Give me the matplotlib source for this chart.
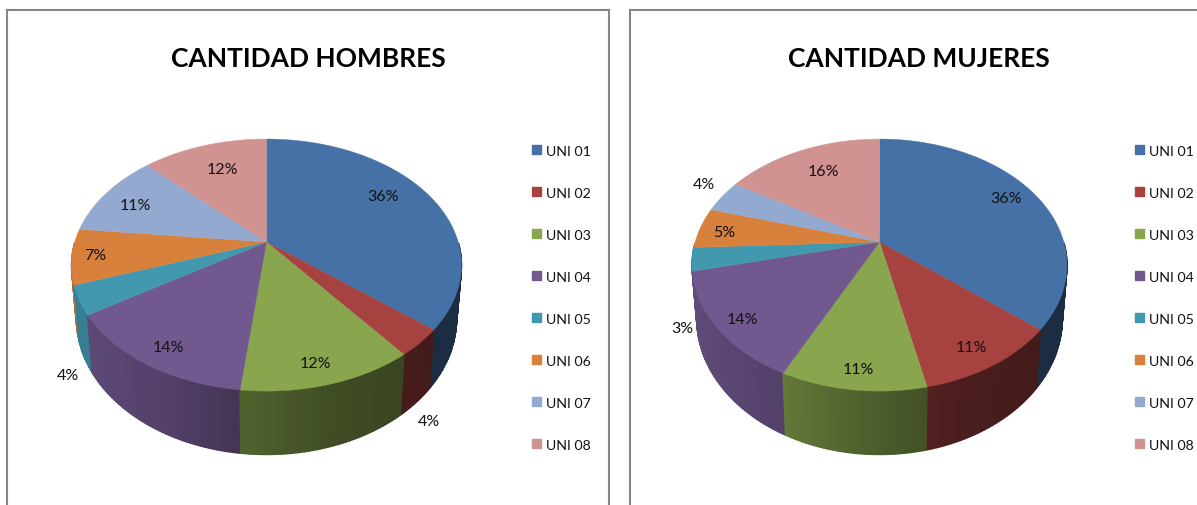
import numpy as np
import matplotlib
matplotlib.use("Agg")
import matplotlib.pyplot as plt
from matplotlib.patches import Patch

W, H = 1197, 506

categories = ["UNI 01", "UNI 02", "UNI 03", "UNI 04", "UNI 05", "UNI 06", "UNI 07", "UNI 08"]
hombres = [36.0, 3.5, 12.3, 14.1, 3.7, 7.1, 10.9, 12.4]
mujeres = [36.0, 10.6, 10.6, 14.1, 3.0, 5.2, 4.2, 16.3]
colors = ["#4571A7", "#A64341", "#89A54E", "#71588F", "#4198AF", "#D8813C", "#93A9CF", "#D19392"]

plt.rcParams["font.family"] = ["Lato", "DejaVu Sans"]

K = 0.183   # perspective of the pie plane
B = 121.8


def project(theta, a):
    # theta clockwise from 12 o'clock, result is pixels from the pie centre
    x, y = np.sin(theta), np.cos(theta)
    return a * x / (1 + K * y), B * y / (1 + K * y)


def shade(color, t):
    f = np.interp(t, [-1, -0.45, -0.13, 0.3, 0.8, 1], [0.86, 0.74, 0.60, 0.46, 0.40, 0.40])
    return tuple(c * f for c in matplotlib.colors.to_rgb(color))


def draw_pie(ax, values, a):
    edges = np.radians(np.cumsum([0] + values) * 360 / sum(values))
    strips = []
    for i, color in enumerate(colors):
        n = max(int(np.degrees(edges[i + 1] - edges[i])), 2)
        th = np.linspace(edges[i], edges[i + 1], n + 1)
        for t0, t1 in zip(th[:-1], th[1:]):
            strips.append((np.cos((t0 + t1) / 2), t0, t1, color))
    # wall first, back to front, the back half is hidden anyway
    for cs, t0, t1, color in sorted(strips, key=lambda s: -s[0]):
        if cs > 0:
            continue
        x, y = project(np.array([t0, t1]), a)
        xb, yb = x * 0.975, y * 1.08 - 51.5
        c = shade(color, np.sin((t0 + t1) / 2))
        ax.fill([x[0], x[1], xb[1], xb[0]], [y[0], y[1], yb[1], yb[0]], color=c, lw=1.0, zorder=2)
    for i, color in enumerate(colors):
        th = np.linspace(edges[i], edges[i + 1], 80)
        x, y = project(th, a)
        ax.fill(np.r_[0, x], np.r_[0, y], color=color, lw=0.3, zorder=3)


def panel(left, right, cx, a, values, title, title_x, label_xy, legend_x):
    top, bottom, cy = 10.5, 520, 243
    ax = fig.add_axes([left / W, (H - bottom) / H, (right - left) / W, (bottom - top) / H])
    ax.set_xlim(left - cx, right - cx)
    ax.set_ylim(cy - bottom, cy - top)
    ax.set_xticks([])
    ax.set_yticks([])
    ax.spines["bottom"].set_visible(False)
    for s in ["left", "right", "top"]:
        ax.spines[s].set_color("#868686")
        ax.spines[s].set_linewidth(1.5)
    draw_pie(ax, values, a)
    ax.text(title_x - cx, cy - 58.5, title, fontsize=19, fontweight="bold", ha="center", va="center", color="black")
    for v, (px, py) in zip(values, label_xy):
        ax.text(px - cx, cy - py - 1, f"{v:.0f}%", fontsize=11.5, ha="center", va="center", color="#111111", zorder=5)
    handles = [Patch(color=c) for c in colors]
    ax.legend(handles, categories, loc="upper left", bbox_to_anchor=(legend_x - cx, cy - 145.5),
              bbox_transform=ax.transData, frameon=False, fontsize=10.2, labelspacing=2.12,
              handlelength=0.63, handleheight=0.63, handletextpad=0.35, borderpad=0, borderaxespad=0,
              labelcolor="#111111")


fig = plt.figure(figsize=(W / 100, H / 100), dpi=100, facecolor="white")

labels_h = [(383, 196), (429, 421), (315, 363), (168, 347), (68, 375), (95, 255), (135, 205), (222, 169)]
labels_m = [(1006, 198), (971, 347), (858, 369), (742, 319), (682, 328), (724, 232), (704, 184), (823, 171)]

panel(7, 609, 266.5, 191.7, hombres, "CANTIDAD HOMBRES", 308, labels_h, 532)
panel(630, 1210, 879.5, 184.3, mujeres, "CANTIDAD MUJERES", 919, labels_m, 1135)

fig.savefig("out.png", dpi=100)
